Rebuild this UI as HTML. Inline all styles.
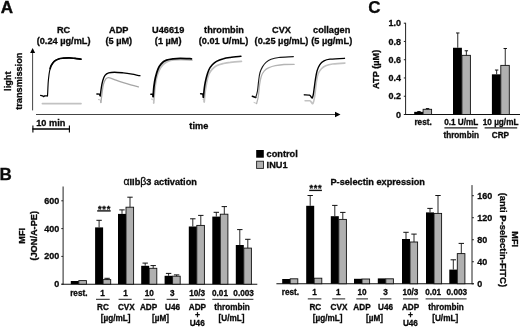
<!DOCTYPE html>
<html><head><meta charset="utf-8"><title>Figure</title>
<style>
html,body{margin:0;padding:0;background:#fff;}
svg{display:block;font-family:"Liberation Sans",sans-serif;font-weight:bold;}
.tx{fill:#0a0a0a;stroke:#0a0a0a;stroke-width:0.3;filter:blur(0.4px);}
.sh{filter:blur(0.25px);}
</style></head><body>
<svg width="520" height="327" viewBox="0 0 520 327">
<rect width="520" height="327" fill="#fff"/>
<g class="sh"><line x1="32.6" y1="52" x2="32.6" y2="110.4" stroke="#444" stroke-width="1"/>
<polygon points="32.6,48 30.1,53.1 35.1,53.1" fill="#000"/>
<line x1="36" y1="114.5" x2="336" y2="114.5" stroke="#444" stroke-width="1"/>
<polygon points="340.5,114.5 335,111.8 335,117.2" fill="#000"/>
<line x1="32.4" y1="129" x2="69.8" y2="129" stroke="#000" stroke-width="1.5"/>
<line x1="32.9" y1="125.4" x2="32.9" y2="132.5" stroke="#000" stroke-width="1.1"/>
<line x1="69.4" y1="125.4" x2="69.4" y2="132.5" stroke="#000" stroke-width="1.1"/>
<path d="M42.4,103.6 L81.0,103.6" fill="none" stroke="#c2c2c2" stroke-width="1.7" stroke-linecap="round" stroke-linejoin="round"/>
<path d="M40.6,95.4 L42.5,95.8 L43.6,96.6 L44.6,95.9 L47.5,95.8" fill="none" stroke="#000" stroke-width="1.3" stroke-linecap="round" stroke-linejoin="round"/>
<path d="M47.5,95.8 C47.6,94.5 47.8,90.6 47.9,88.0 C48.0,85.4 48.1,82.8 48.4,80.0 C48.7,77.2 49.0,73.9 49.5,71.5 C50.0,69.1 50.4,67.3 51.2,65.6 C52.0,63.9 53.0,62.5 54.2,61.4 C55.4,60.3 57.1,59.5 58.6,59.0 C60.1,58.5 61.3,58.4 63.0,58.2 C64.7,58.0 67.0,57.9 69.0,57.9 C71.0,57.9 73.0,58.2 75.0,58.4 C77.0,58.6 80.0,59.1 81.0,59.2" fill="none" stroke="#000" stroke-width="1.15" stroke-linecap="round" stroke-linejoin="round"/>
<path d="M50.2,68.5 C50.4,68.0 50.5,66.8 51.2,65.6 C51.9,64.4 53.0,62.5 54.2,61.4 C55.4,60.3 57.1,59.5 58.6,59.0 C60.1,58.5 61.3,58.4 63.0,58.2 C64.7,58.0 67.0,57.9 69.0,57.9 C71.0,57.9 73.0,58.2 75.0,58.4 C77.0,58.6 80.0,59.1 81.0,59.2" fill="none" stroke="#000" stroke-width="1.7" stroke-linecap="round" stroke-linejoin="round"/>
<path d="M98.4,99.6 L100.2,99.8 L100.9,102.5" fill="none" stroke="#c2c2c2" stroke-width="1.0" stroke-linecap="round" stroke-linejoin="round"/>
<path d="M100.9,102.5 C101.1,100.8 101.7,95.3 102.1,92.3 C102.5,89.2 102.9,86.4 103.5,84.2 C104.1,82.0 104.8,80.2 105.7,79.1 C106.6,78.0 107.0,77.4 108.7,77.6 C110.4,77.8 113.6,79.3 116.0,80.2 C118.4,81.1 120.8,81.9 123.3,82.7 C125.8,83.5 128.2,84.2 130.7,84.9 C133.2,85.6 137.1,86.5 138.4,86.8" fill="none" stroke="#a6a6a6" stroke-width="1.3" stroke-linecap="round" stroke-linejoin="round"/>
<path d="M96.9,94.0 L99.6,94.1 L100.2,95.9" fill="none" stroke="#000" stroke-width="1.4" stroke-linecap="round" stroke-linejoin="round"/>
<path d="M100.2,95.9 C100.4,94.6 100.9,90.5 101.3,87.9 C101.7,85.3 102.2,82.6 102.8,80.5 C103.4,78.4 104.0,76.7 105.0,75.4 C106.0,74.1 107.1,73.4 108.7,72.9 C110.3,72.4 112.1,72.2 114.5,72.2 C116.9,72.2 120.4,72.6 123.3,72.9 C126.2,73.2 129.3,73.7 132.1,74.2 C134.9,74.7 138.6,75.5 139.9,75.7" fill="none" stroke="#000" stroke-width="1.35" stroke-linecap="round" stroke-linejoin="round"/>
<path d="M151.5,99.1 L153.2,99.3 L153.7,103.0" fill="none" stroke="#c2c2c2" stroke-width="1.0" stroke-linecap="round" stroke-linejoin="round"/>
<path d="M153.7,103.0 C153.9,100.8 154.4,94.0 154.8,90.0 C155.2,86.0 155.7,82.3 156.4,79.0 C157.1,75.7 158.1,72.7 159.2,70.3 C160.3,67.9 161.4,66.3 162.8,64.8 C164.2,63.3 165.9,62.3 167.8,61.5 C169.7,60.7 171.8,60.3 174.0,60.0 C176.2,59.7 178.0,59.6 181.0,59.6 C184.0,59.6 190.2,60.1 192.0,60.2" fill="none" stroke="#c2c2c2" stroke-width="1.7" stroke-linecap="round" stroke-linejoin="round"/>
<path d="M150.8,94.2 L152.8,94.3 L153.2,96.5" fill="none" stroke="#000" stroke-width="1.4" stroke-linecap="round" stroke-linejoin="round"/>
<path d="M153.2,96.5 C153.3,94.8 153.6,89.3 154.0,86.2 C154.4,83.1 154.7,80.6 155.4,77.7 C156.1,74.8 157.0,71.4 158.0,69.1 C159.0,66.8 160.0,65.1 161.4,63.6 C162.8,62.1 164.5,61.0 166.5,60.2 C168.5,59.4 171.1,59.1 173.4,58.8 C175.7,58.5 177.2,58.3 180.2,58.3 C183.2,58.3 189.5,58.7 191.4,58.8" fill="none" stroke="#000" stroke-width="1.8" stroke-linecap="round" stroke-linejoin="round"/>
<path d="M203.0,99.5 L204.0,99.8 L204.2,101.9" fill="none" stroke="#c2c2c2" stroke-width="1.0" stroke-linecap="round" stroke-linejoin="round"/>
<path d="M204.2,101.9 C204.3,100.4 204.7,95.9 205.0,93.0 C205.3,90.1 205.7,87.6 206.3,84.5 C206.9,81.4 207.8,76.9 208.8,74.3 C209.8,71.7 211.0,70.5 212.3,69.1 C213.6,67.7 214.7,66.6 216.5,65.7 C218.3,64.8 221.1,64.1 223.4,63.5 C225.7,62.9 227.2,62.6 230.2,62.3 C233.2,61.9 239.5,61.5 241.4,61.4" fill="none" stroke="#c2c2c2" stroke-width="1.8" stroke-linecap="round" stroke-linejoin="round"/>
<path d="M200.6,93.8 L202.8,94.0 L203.4,97.4" fill="none" stroke="#000" stroke-width="1.4" stroke-linecap="round" stroke-linejoin="round"/>
<path d="M203.4,97.4 C203.6,95.5 204.1,89.5 204.6,86.2 C205.1,82.9 205.6,80.4 206.3,77.7 C207.0,75.0 207.8,72.2 208.8,70.0 C209.8,67.8 211.0,66.2 212.3,64.8 C213.6,63.4 214.7,62.4 216.5,61.4 C218.3,60.4 221.1,59.4 223.4,58.8 C225.7,58.1 227.3,57.9 230.2,57.5 C233.1,57.1 239.1,56.5 240.9,56.3" fill="none" stroke="#000" stroke-width="1.6" stroke-linecap="round" stroke-linejoin="round"/>
<path d="M254.0,102.5 L256.6,103.5" fill="none" stroke="#c2c2c2" stroke-width="1.0" stroke-linecap="round" stroke-linejoin="round"/>
<path d="M256.6,103.5 C256.9,102.3 257.8,99.7 258.3,96.5 C258.8,93.3 259.1,87.9 259.6,84.5 C260.1,81.1 260.6,78.3 261.4,76.0 C262.2,73.7 263.1,72.2 264.3,70.8 C265.5,69.4 266.6,68.6 268.5,67.8 C270.4,67.0 272.8,66.2 275.4,65.7 C278.0,65.2 280.9,64.7 284.0,64.5 C287.1,64.3 292.5,64.3 294.2,64.3" fill="none" stroke="#b4b4b4" stroke-width="1.3" stroke-linecap="round" stroke-linejoin="round"/>
<path d="M252.3,96.2 L255.7,97.5" fill="none" stroke="#000" stroke-width="1.5" stroke-linecap="round" stroke-linejoin="round"/>
<path d="M255.7,97.5 C256.0,96.5 256.9,94.1 257.4,91.4 C257.9,88.7 258.2,84.2 258.6,81.1 C259.0,77.9 259.3,74.9 260.0,72.5 C260.7,70.1 261.6,68.3 262.6,66.6 C263.6,64.9 264.6,63.5 266.0,62.3 C267.4,61.1 269.0,60.0 271.1,59.2 C273.2,58.4 275.1,57.9 278.8,57.5 C282.5,57.1 291.0,56.8 293.4,56.6" fill="none" stroke="#1a1a1a" stroke-width="1.1" stroke-linecap="round" stroke-linejoin="round"/>
<path d="M305.1,100.8 C305.9,100.8 308.7,100.5 309.8,100.8 C310.9,101.1 311.1,102.1 311.6,102.6 C312.1,103.1 312.4,104.0 312.8,103.7 C313.2,103.4 313.5,102.0 313.9,100.5 C314.2,99.0 314.5,97.8 314.9,94.8 C315.3,91.8 315.8,86.2 316.3,82.8 C316.8,79.4 317.1,76.6 318.0,74.3 C318.9,72.0 320.1,70.2 321.4,68.8 C322.7,67.4 323.8,66.5 325.7,65.7 C327.6,64.9 329.3,64.4 332.5,64.0 C335.7,63.6 342.8,63.2 344.9,63.1" fill="none" stroke="#c2c2c2" stroke-width="1.6" stroke-linecap="round" stroke-linejoin="round"/>
<path d="M304.3,94.8 C305.1,94.9 308.2,94.8 309.4,95.2 C310.5,95.6 310.7,96.5 311.2,97.0 C311.7,97.5 312.0,98.2 312.3,97.9 C312.6,97.6 312.9,96.4 313.2,95.0 C313.5,93.6 313.6,92.3 314.0,89.7 C314.4,87.1 314.9,82.6 315.4,79.4 C315.9,76.2 316.4,73.2 317.1,70.8 C317.8,68.4 318.6,66.5 319.7,64.8 C320.8,63.1 322.3,61.8 324.0,60.9 C325.7,60.0 326.6,59.6 330.0,59.2 C333.4,58.8 342.1,58.4 344.5,58.3" fill="none" stroke="#000" stroke-width="1.35" stroke-linecap="round" stroke-linejoin="round"/>
<rect x="256.20" y="150.00" width="7.60" height="7.70" fill="#000"/>
<rect x="256.60" y="161.20" width="6.90" height="7.20" fill="#b0b0b0" stroke="#222" stroke-width="0.9"/>
<line x1="405.6" y1="22.8" x2="405.6" y2="115.0" stroke="#222" stroke-width="1"/>
<line x1="404.0" y1="114.5" x2="520" y2="114.5" stroke="#111" stroke-width="1.1"/>
<line x1="403.8" y1="114.5" x2="405.6" y2="114.5" stroke="#222" stroke-width="1"/>
<line x1="403.8" y1="96.24" x2="405.6" y2="96.24" stroke="#222" stroke-width="1"/>
<line x1="403.8" y1="77.97999999999999" x2="405.6" y2="77.97999999999999" stroke="#222" stroke-width="1"/>
<line x1="403.8" y1="59.71999999999999" x2="405.6" y2="59.71999999999999" stroke="#222" stroke-width="1"/>
<line x1="403.8" y1="41.459999999999994" x2="405.6" y2="41.459999999999994" stroke="#222" stroke-width="1"/>
<line x1="403.8" y1="23.200000000000003" x2="405.6" y2="23.200000000000003" stroke="#222" stroke-width="1"/>
<rect x="414.20" y="111.85" width="8.90" height="2.65" fill="#000"/>
<line x1="418.95" y1="111.8523" x2="418.95" y2="111.4871" stroke="#111" stroke-width="0.9"/>
<line x1="417.25" y1="111.4871" x2="420.65" y2="111.4871" stroke="#111" stroke-width="1"/>
<rect x="423.10" y="109.30" width="8.50" height="5.20" fill="#b0b0b0" stroke="#111" stroke-width="0.9"/>
<line x1="427.54999999999995" y1="109.2959" x2="427.54999999999995" y2="108.5655" stroke="#111" stroke-width="0.9"/>
<line x1="425.84999999999997" y1="108.5655" x2="429.24999999999994" y2="108.5655" stroke="#111" stroke-width="1"/>
<rect x="453.00" y="47.76" width="8.90" height="66.74" fill="#000"/>
<line x1="457.75" y1="47.75970000000001" x2="457.75" y2="32.9691" stroke="#111" stroke-width="0.9"/>
<line x1="456.05" y1="32.9691" x2="459.45" y2="32.9691" stroke="#111" stroke-width="1"/>
<rect x="461.90" y="55.34" width="8.50" height="59.16" fill="#b0b0b0" stroke="#111" stroke-width="0.9"/>
<line x1="466.34999999999997" y1="55.3376" x2="466.34999999999997" y2="50.7726" stroke="#111" stroke-width="0.9"/>
<line x1="464.65" y1="50.7726" x2="468.04999999999995" y2="50.7726" stroke="#111" stroke-width="1"/>
<rect x="491.90" y="74.33" width="8.90" height="40.17" fill="#000"/>
<line x1="496.65" y1="74.328" x2="496.65" y2="70.0369" stroke="#111" stroke-width="0.9"/>
<line x1="494.95" y1="70.0369" x2="498.34999999999997" y2="70.0369" stroke="#111" stroke-width="1"/>
<rect x="500.80" y="65.38" width="8.50" height="49.12" fill="#b0b0b0" stroke="#111" stroke-width="0.9"/>
<line x1="505.24999999999994" y1="65.3806" x2="505.24999999999994" y2="48.4901" stroke="#111" stroke-width="0.9"/>
<line x1="503.54999999999995" y1="48.4901" x2="506.94999999999993" y2="48.4901" stroke="#111" stroke-width="1"/>
<line x1="444.4" y1="127.9" x2="477.4" y2="127.9" stroke="#222" stroke-width="1.2"/>
<line x1="484.6" y1="127.9" x2="517.2" y2="127.9" stroke="#222" stroke-width="1.2"/>
<line x1="63.1" y1="186.5" x2="63.1" y2="284.7" stroke="#222" stroke-width="1"/>
<line x1="61.5" y1="284.2" x2="257.3" y2="284.2" stroke="#111" stroke-width="1.1"/>
<line x1="61.300000000000004" y1="284.2" x2="63.1" y2="284.2" stroke="#222" stroke-width="1"/>
<line x1="61.300000000000004" y1="256.4" x2="63.1" y2="256.4" stroke="#222" stroke-width="1"/>
<line x1="61.300000000000004" y1="228.59999999999997" x2="63.1" y2="228.59999999999997" stroke="#222" stroke-width="1"/>
<line x1="61.300000000000004" y1="200.79999999999998" x2="63.1" y2="200.79999999999998" stroke="#222" stroke-width="1"/>
<rect x="70.80" y="281.00" width="8.00" height="3.20" fill="#000"/>
<rect x="78.80" y="280.60" width="7.60" height="3.60" fill="#b0b0b0" stroke="#111" stroke-width="0.9"/>
<rect x="95.10" y="227.40" width="8.00" height="56.80" fill="#000"/>
<line x1="99.1" y1="227.4" x2="99.1" y2="220.3" stroke="#111" stroke-width="0.9"/>
<line x1="96.39999999999999" y1="220.3" x2="101.8" y2="220.3" stroke="#111" stroke-width="1"/>
<rect x="103.10" y="279.60" width="7.60" height="4.60" fill="#b0b0b0" stroke="#111" stroke-width="0.9"/>
<line x1="107.1" y1="279.6" x2="107.1" y2="278.3" stroke="#111" stroke-width="0.9"/>
<line x1="104.39999999999999" y1="278.3" x2="109.8" y2="278.3" stroke="#111" stroke-width="1"/>
<rect x="118.00" y="213.90" width="8.00" height="70.30" fill="#000"/>
<line x1="122.0" y1="213.9" x2="122.0" y2="209.9" stroke="#111" stroke-width="0.9"/>
<line x1="119.3" y1="209.9" x2="124.7" y2="209.9" stroke="#111" stroke-width="1"/>
<rect x="126.00" y="207.20" width="7.60" height="77.00" fill="#b0b0b0" stroke="#111" stroke-width="0.9"/>
<line x1="130.0" y1="207.2" x2="130.0" y2="197.2" stroke="#111" stroke-width="0.9"/>
<line x1="127.3" y1="197.2" x2="132.7" y2="197.2" stroke="#111" stroke-width="1"/>
<rect x="141.20" y="265.80" width="8.00" height="18.40" fill="#000"/>
<line x1="145.2" y1="265.8" x2="145.2" y2="263.1" stroke="#111" stroke-width="0.9"/>
<line x1="142.5" y1="263.1" x2="147.89999999999998" y2="263.1" stroke="#111" stroke-width="1"/>
<rect x="149.20" y="268.30" width="7.60" height="15.90" fill="#b0b0b0" stroke="#111" stroke-width="0.9"/>
<line x1="153.2" y1="268.3" x2="153.2" y2="265.6" stroke="#111" stroke-width="0.9"/>
<line x1="150.5" y1="265.6" x2="155.89999999999998" y2="265.6" stroke="#111" stroke-width="1"/>
<rect x="164.60" y="275.80" width="8.00" height="8.40" fill="#000"/>
<line x1="168.6" y1="275.8" x2="168.6" y2="273.4" stroke="#111" stroke-width="0.9"/>
<line x1="165.9" y1="273.4" x2="171.29999999999998" y2="273.4" stroke="#111" stroke-width="1"/>
<rect x="172.60" y="276.20" width="7.60" height="8.00" fill="#b0b0b0" stroke="#111" stroke-width="0.9"/>
<line x1="176.6" y1="276.2" x2="176.6" y2="274.9" stroke="#111" stroke-width="0.9"/>
<line x1="173.9" y1="274.9" x2="179.29999999999998" y2="274.9" stroke="#111" stroke-width="1"/>
<rect x="188.80" y="226.50" width="8.00" height="57.70" fill="#000"/>
<line x1="192.8" y1="226.5" x2="192.8" y2="218.8" stroke="#111" stroke-width="0.9"/>
<line x1="190.10000000000002" y1="218.8" x2="195.5" y2="218.8" stroke="#111" stroke-width="1"/>
<rect x="196.80" y="225.40" width="7.60" height="58.80" fill="#b0b0b0" stroke="#111" stroke-width="0.9"/>
<line x1="200.8" y1="225.4" x2="200.8" y2="215.4" stroke="#111" stroke-width="0.9"/>
<line x1="198.10000000000002" y1="215.4" x2="203.5" y2="215.4" stroke="#111" stroke-width="1"/>
<rect x="212.30" y="216.60" width="8.00" height="67.60" fill="#000"/>
<line x1="216.3" y1="216.6" x2="216.3" y2="212.3" stroke="#111" stroke-width="0.9"/>
<line x1="213.60000000000002" y1="212.3" x2="219.0" y2="212.3" stroke="#111" stroke-width="1"/>
<rect x="220.30" y="214.20" width="7.60" height="70.00" fill="#b0b0b0" stroke="#111" stroke-width="0.9"/>
<line x1="224.3" y1="214.2" x2="224.3" y2="206.6" stroke="#111" stroke-width="0.9"/>
<line x1="221.60000000000002" y1="206.6" x2="227.0" y2="206.6" stroke="#111" stroke-width="1"/>
<rect x="235.80" y="245.00" width="8.00" height="39.20" fill="#000"/>
<line x1="239.8" y1="245.0" x2="239.8" y2="229.6" stroke="#111" stroke-width="0.9"/>
<line x1="237.10000000000002" y1="229.6" x2="242.5" y2="229.6" stroke="#111" stroke-width="1"/>
<rect x="243.80" y="248.10" width="7.60" height="36.10" fill="#b0b0b0" stroke="#111" stroke-width="0.9"/>
<line x1="247.8" y1="248.1" x2="247.8" y2="239.3" stroke="#111" stroke-width="0.9"/>
<line x1="245.10000000000002" y1="239.3" x2="250.5" y2="239.3" stroke="#111" stroke-width="1"/>
<line x1="97.2" y1="210.9" x2="110.7" y2="210.9" stroke="#111" stroke-width="1.4"/>
<line x1="96" y1="299.3" x2="109.7" y2="299.3" stroke="#222" stroke-width="1"/>
<line x1="118.6" y1="299.3" x2="131.7" y2="299.3" stroke="#222" stroke-width="1"/>
<line x1="143.4" y1="299.3" x2="155" y2="299.3" stroke="#222" stroke-width="1"/>
<line x1="166.6" y1="299.3" x2="178" y2="299.3" stroke="#222" stroke-width="1"/>
<line x1="189.7" y1="299.3" x2="204.9" y2="299.3" stroke="#222" stroke-width="1"/>
<line x1="212.3" y1="299.3" x2="253.4" y2="299.3" stroke="#222" stroke-width="1"/>
<line x1="472" y1="185.1" x2="472" y2="284.25" stroke="#222" stroke-width="1"/>
<line x1="276.4" y1="283.75" x2="473.8" y2="283.75" stroke="#111" stroke-width="1.1"/>
<line x1="472" y1="283.75" x2="473.9" y2="283.75" stroke="#222" stroke-width="1"/>
<line x1="472" y1="261.738" x2="473.9" y2="261.738" stroke="#222" stroke-width="1"/>
<line x1="472" y1="239.726" x2="473.9" y2="239.726" stroke="#222" stroke-width="1"/>
<line x1="472" y1="217.714" x2="473.9" y2="217.714" stroke="#222" stroke-width="1"/>
<line x1="472" y1="195.702" x2="473.9" y2="195.702" stroke="#222" stroke-width="1"/>
<rect x="282.20" y="279.00" width="8.00" height="4.75" fill="#000"/>
<rect x="290.20" y="278.80" width="7.60" height="4.95" fill="#b0b0b0" stroke="#111" stroke-width="0.9"/>
<rect x="306.20" y="205.80" width="8.00" height="77.95" fill="#000"/>
<line x1="310.2" y1="205.8" x2="310.2" y2="195.5" stroke="#111" stroke-width="0.9"/>
<line x1="307.5" y1="195.5" x2="312.9" y2="195.5" stroke="#111" stroke-width="1"/>
<rect x="314.20" y="278.20" width="7.60" height="5.55" fill="#b0b0b0" stroke="#111" stroke-width="0.9"/>
<rect x="330.80" y="216.20" width="8.00" height="67.55" fill="#000"/>
<line x1="334.8" y1="216.2" x2="334.8" y2="205.4" stroke="#111" stroke-width="0.9"/>
<line x1="332.1" y1="205.4" x2="337.5" y2="205.4" stroke="#111" stroke-width="1"/>
<rect x="338.80" y="219.40" width="7.60" height="64.35" fill="#b0b0b0" stroke="#111" stroke-width="0.9"/>
<line x1="342.8" y1="219.4" x2="342.8" y2="212.4" stroke="#111" stroke-width="0.9"/>
<line x1="340.1" y1="212.4" x2="345.5" y2="212.4" stroke="#111" stroke-width="1"/>
<rect x="354.00" y="278.80" width="8.00" height="4.95" fill="#000"/>
<rect x="362.00" y="279.00" width="7.60" height="4.75" fill="#b0b0b0" stroke="#111" stroke-width="0.9"/>
<rect x="377.80" y="278.40" width="8.00" height="5.35" fill="#000"/>
<rect x="385.80" y="278.80" width="7.60" height="4.95" fill="#b0b0b0" stroke="#111" stroke-width="0.9"/>
<rect x="402.00" y="239.00" width="8.00" height="44.75" fill="#000"/>
<line x1="406.0" y1="239.0" x2="406.0" y2="232.3" stroke="#111" stroke-width="0.9"/>
<line x1="403.3" y1="232.3" x2="408.7" y2="232.3" stroke="#111" stroke-width="1"/>
<rect x="410.00" y="242.00" width="7.60" height="41.75" fill="#b0b0b0" stroke="#111" stroke-width="0.9"/>
<line x1="414.0" y1="242.0" x2="414.0" y2="234.1" stroke="#111" stroke-width="0.9"/>
<line x1="411.3" y1="234.1" x2="416.7" y2="234.1" stroke="#111" stroke-width="1"/>
<rect x="426.00" y="212.40" width="8.00" height="71.35" fill="#000"/>
<line x1="430.0" y1="212.4" x2="430.0" y2="208.4" stroke="#111" stroke-width="0.9"/>
<line x1="427.3" y1="208.4" x2="432.7" y2="208.4" stroke="#111" stroke-width="1"/>
<rect x="434.00" y="213.40" width="7.60" height="70.35" fill="#b0b0b0" stroke="#111" stroke-width="0.9"/>
<line x1="438.0" y1="213.4" x2="438.0" y2="195.5" stroke="#111" stroke-width="0.9"/>
<line x1="435.3" y1="195.5" x2="440.7" y2="195.5" stroke="#111" stroke-width="1"/>
<rect x="449.30" y="269.60" width="8.00" height="14.15" fill="#000"/>
<line x1="453.3" y1="269.6" x2="453.3" y2="259.8" stroke="#111" stroke-width="0.9"/>
<line x1="450.6" y1="259.8" x2="456.0" y2="259.8" stroke="#111" stroke-width="1"/>
<rect x="457.30" y="253.60" width="7.60" height="30.15" fill="#b0b0b0" stroke="#111" stroke-width="0.9"/>
<line x1="461.3" y1="253.6" x2="461.3" y2="243.4" stroke="#111" stroke-width="0.9"/>
<line x1="458.6" y1="243.4" x2="464.0" y2="243.4" stroke="#111" stroke-width="1"/>
<line x1="309.2" y1="190.4" x2="321.9" y2="190.4" stroke="#111" stroke-width="1.4"/>
<line x1="307.8" y1="298.90000000000003" x2="321.4" y2="298.90000000000003" stroke="#222" stroke-width="1"/>
<line x1="332.2" y1="298.90000000000003" x2="345.2" y2="298.90000000000003" stroke="#222" stroke-width="1"/>
<line x1="356.3" y1="298.90000000000003" x2="368" y2="298.90000000000003" stroke="#222" stroke-width="1"/>
<line x1="380" y1="298.90000000000003" x2="391.4" y2="298.90000000000003" stroke="#222" stroke-width="1"/>
<line x1="403" y1="298.90000000000003" x2="418.2" y2="298.90000000000003" stroke="#222" stroke-width="1"/>
<line x1="425.6" y1="298.90000000000003" x2="466.6" y2="298.90000000000003" stroke="#222" stroke-width="1"/></g>
<g class="tx"><text x="0.7" y="13.1" text-anchor="start" font-size="17" stroke-width="0.4">A</text>
<text x="-0.4" y="180.4" text-anchor="start" font-size="17" stroke-width="0.3">B</text>
<text x="368.3" y="13.1" text-anchor="start" font-size="17" stroke-width="0.25">C</text>
<text x="63.6" y="32.6" text-anchor="middle" font-size="9.2">RC</text>
<text x="63.6" y="43.6" text-anchor="middle" font-size="9.2">(0.24 µg/mL)</text>
<text x="118.8" y="32.6" text-anchor="middle" font-size="9.2">ADP</text>
<text x="118.8" y="43.6" text-anchor="middle" font-size="9.2">(5 µM)</text>
<text x="168.2" y="32.6" text-anchor="middle" font-size="9.2">U46619</text>
<text x="168.2" y="43.6" text-anchor="middle" font-size="9.2">(1 µM)</text>
<text x="224" y="32.6" text-anchor="middle" font-size="9.2">thrombin</text>
<text x="223.5" y="43.6" text-anchor="middle" font-size="9.2">(0.01 U/mL)</text>
<text x="281.5" y="32.6" text-anchor="middle" font-size="9.2">CVX</text>
<text x="281.5" y="43.6" text-anchor="middle" font-size="9.2">(0.25 µg/mL)</text>
<text x="331.7" y="32.6" text-anchor="middle" font-size="9.2">collagen</text>
<text x="331.7" y="43.6" text-anchor="middle" font-size="9.2">(5 µg/mL)</text>
<text x="11.5" y="81.2" text-anchor="middle" font-size="9.2" transform="rotate(-90 11.5 81.2)">light</text>
<text x="22.2" y="81.2" text-anchor="middle" font-size="9.2" transform="rotate(-90 22.2 81.2)">transmission</text>
<text x="198.8" y="128.8" text-anchor="middle" font-size="9.2">time</text>
<text x="50.8" y="125.6" text-anchor="middle" font-size="9.2">10 min</text>
<text x="266.6" y="157" text-anchor="start" font-size="9.2">control</text>
<text x="266.6" y="168.3" text-anchor="start" font-size="9.2">INU1</text>
<text x="401" y="117.6" text-anchor="end" font-size="9.0">0</text>
<text x="401" y="99.33999999999999" text-anchor="end" font-size="9.0">0.2</text>
<text x="401" y="81.07999999999998" text-anchor="end" font-size="9.0">0.4</text>
<text x="401" y="62.81999999999999" text-anchor="end" font-size="9.0">0.6</text>
<text x="401" y="44.559999999999995" text-anchor="end" font-size="9.0">0.8</text>
<text x="401" y="26.300000000000004" text-anchor="end" font-size="9.0">1.0</text>
<text x="379.1" y="69.3" text-anchor="middle" font-size="9.2" transform="rotate(-90 379.1 69.3)">ATP (µM)</text>
<text x="423.1" y="125.3" text-anchor="middle" font-size="8.2">rest.</text>
<text x="461.2" y="125.3" text-anchor="middle" font-size="8.2">0.1 U/mL</text>
<text x="500.6" y="125.3" text-anchor="middle" font-size="8.2">10 µg/mL</text>
<text x="461.2" y="137.9" text-anchor="middle" font-size="8.2">thrombin</text>
<text x="500.4" y="137.9" text-anchor="middle" font-size="8.2">CRP</text>
<text x="59.2" y="287.09999999999997" text-anchor="end" font-size="9.0">0</text>
<text x="59.2" y="259.29999999999995" text-anchor="end" font-size="9.0">200</text>
<text x="59.2" y="231.49999999999997" text-anchor="end" font-size="9.0">400</text>
<text x="59.2" y="203.7" text-anchor="end" font-size="9.0">600</text>
<text x="25.4" y="235.8" text-anchor="middle" font-size="9.2" transform="rotate(-90 25.4 235.8)">MFI</text>
<text x="36.8" y="235.8" text-anchor="middle" font-size="9.2" transform="rotate(-90 36.8 235.8)">(JON/A-PE)</text>
<text x="160.2" y="185" text-anchor="middle" font-size="9.2" stroke="#0a0a0a" stroke-width="0.3"><tspan font-weight="normal" font-size="10.5">α</tspan>IIb<tspan font-weight="normal" font-size="10.5">β</tspan>3 activation</text>
<text x="104.5" y="211.6" text-anchor="middle" font-size="9.2" letter-spacing="0.75">***</text>
<text x="78.8" y="295.6" text-anchor="middle" font-size="8.2">rest.</text>
<text x="102.6" y="295.6" text-anchor="middle" font-size="8.2">1</text>
<text x="125.6" y="295.6" text-anchor="middle" font-size="8.2">1</text>
<text x="149.2" y="295.6" text-anchor="middle" font-size="8.2">10</text>
<text x="172.4" y="295.6" text-anchor="middle" font-size="8.2">3</text>
<text x="197.2" y="295.6" text-anchor="middle" font-size="8.2">10/3</text>
<text x="220" y="295.6" text-anchor="middle" font-size="8.2">0.01</text>
<text x="243.6" y="295.6" text-anchor="middle" font-size="8.2">0.003</text>
<text x="103" y="310" text-anchor="middle" font-size="8.2">RC</text>
<text x="126.3" y="310" text-anchor="middle" font-size="8.2">CVX</text>
<text x="148.6" y="310" text-anchor="middle" font-size="8.2">ADP</text>
<text x="172.6" y="310" text-anchor="middle" font-size="8.2">U46</text>
<text x="197.4" y="310" text-anchor="middle" font-size="8.2">ADP</text>
<text x="232.1" y="310" text-anchor="middle" font-size="8.2">thrombin</text>
<text x="115.6" y="320.9" text-anchor="middle" font-size="8.2">[µg/mL]</text>
<text x="160.5" y="320.9" text-anchor="middle" font-size="8.2">[µM]</text>
<text x="231.5" y="320.9" text-anchor="middle" font-size="8.2">[U/mL]</text>
<text x="197.4" y="318" text-anchor="middle" font-size="8.5">+</text>
<text x="197.2" y="326" text-anchor="middle" font-size="8.2">U46</text>
<text x="477.3" y="286.85" text-anchor="start" font-size="9.0">0</text>
<text x="477.3" y="264.838" text-anchor="start" font-size="9.0">40</text>
<text x="477.3" y="242.826" text-anchor="start" font-size="9.0">80</text>
<text x="477.3" y="220.814" text-anchor="start" font-size="9.0">120</text>
<text x="477.3" y="198.802" text-anchor="start" font-size="9.0">160</text>
<text x="512" y="239.2" text-anchor="middle" font-size="9.2" transform="rotate(90 512 239.2)">MFI</text>
<text x="500.4" y="239.9" text-anchor="middle" font-size="9.45" transform="rotate(90 500.4 239.9)">(anti P-selectin-FITC)</text>
<text x="377.7" y="184.6" text-anchor="middle" font-size="9.2">P-selectin expression</text>
<text x="315.9" y="191" text-anchor="middle" font-size="9.2" letter-spacing="0.75">***</text>
<text x="290.4" y="295.15000000000003" text-anchor="middle" font-size="8.2">rest.</text>
<text x="314.6" y="295.15000000000003" text-anchor="middle" font-size="8.2">1</text>
<text x="338.4" y="295.15000000000003" text-anchor="middle" font-size="8.2">1</text>
<text x="362" y="295.15000000000003" text-anchor="middle" font-size="8.2">10</text>
<text x="385.6" y="295.15000000000003" text-anchor="middle" font-size="8.2">3</text>
<text x="410.4" y="295.15000000000003" text-anchor="middle" font-size="8.2">10/3</text>
<text x="433.2" y="295.15000000000003" text-anchor="middle" font-size="8.2">0.01</text>
<text x="456.8" y="295.15000000000003" text-anchor="middle" font-size="8.2">0.003</text>
<text x="315.3" y="309.6" text-anchor="middle" font-size="8.2">RC</text>
<text x="339" y="309.6" text-anchor="middle" font-size="8.2">CVX</text>
<text x="362" y="309.6" text-anchor="middle" font-size="8.2">ADP</text>
<text x="385.6" y="309.6" text-anchor="middle" font-size="8.2">U46</text>
<text x="410.6" y="309.6" text-anchor="middle" font-size="8.2">ADP</text>
<text x="446" y="309.6" text-anchor="middle" font-size="8.2">thrombin</text>
<text x="327.6" y="320.6" text-anchor="middle" font-size="8.2">[µg/mL]</text>
<text x="374.5" y="320.6" text-anchor="middle" font-size="8.2">[µM]</text>
<text x="445.2" y="320.6" text-anchor="middle" font-size="8.2">[U/mL]</text>
<text x="410.6" y="317.6" text-anchor="middle" font-size="8.5">+</text>
<text x="410.4" y="325.6" text-anchor="middle" font-size="8.2">U46</text></g>
</svg>
</body></html>
